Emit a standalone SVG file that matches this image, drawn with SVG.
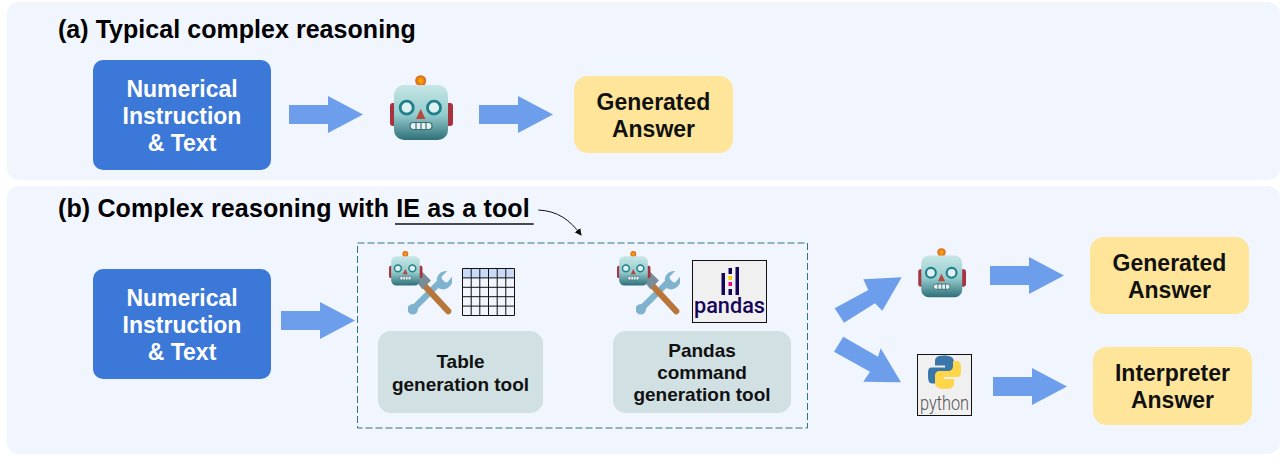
<svg xmlns="http://www.w3.org/2000/svg" xmlns:xlink="http://www.w3.org/1999/xlink" width="1285" height="464" viewBox="0 0 1285 464">
<style>
.panel{fill:#f0f5fe}
.blue{fill:#3c78d8}
.yellow{fill:#ffe599}
.grey{fill:#d0e0e3}
.arrow{fill:#6d9eeb}
.title{font-family:"Liberation Sans",Arial,sans-serif;font-weight:700;font-size:25px;fill:#000}
.node{font-family:"Liberation Sans",Arial,sans-serif;font-weight:700;font-size:23px;text-anchor:middle}
.w{fill:#fff}
.k{fill:#111}
.small{font-family:"Liberation Sans",Arial,sans-serif;font-weight:700;font-size:19px;text-anchor:middle;fill:#111}
</style>
<defs>
<linearGradient id="face" x1="0" y1="0" x2="0" y2="1"><stop offset="0" stop-color="#c8e6e6"/><stop offset="0.55" stop-color="#93cbcc"/><stop offset="1" stop-color="#2f6f78"/></linearGradient>
<radialGradient id="lamp"><stop offset="0" stop-color="#ffb300"/><stop offset="1" stop-color="#d9601e"/></radialGradient>
<marker id="tip" markerWidth="8" markerHeight="8" refX="6" refY="3.500" orient="auto" markerUnits="userSpaceOnUse"><path d="M0 0L7 3.500L0 7z" fill="#111"/></marker>
<symbol id="robot" viewBox="0 0 64 66">
<rect x="0" y="28" width="9" height="23" rx="3" fill="#a8323f"/>
<rect x="54" y="28" width="9" height="23" rx="3" fill="#a8323f"/>
<rect x="27" y="8" width="7.400" height="3" fill="#8a6d50"/>
<circle cx="30.700" cy="5.700" r="5.500" fill="url(#lamp)"/>
<rect x="4" y="10" width="54" height="55" rx="10" fill="url(#face)"/>
<circle cx="16.700" cy="32.700" r="6.500" fill="#dff1f1" stroke="#1f7f8c" stroke-width="2.800"/>
<circle cx="44" cy="32.700" r="6.500" fill="#dff1f1" stroke="#1f7f8c" stroke-width="2.800"/>
<path d="M30.700 34L26 44H35.400z" fill="#b5483a"/>
<rect x="20" y="47.500" width="22" height="7" rx="3.500" fill="#e8f1f1" stroke="#3b6e75" stroke-width="1.200"/>
<path d="M26 47.500v7M31 47.500v7M36 47.500v7" stroke="#3b6e75" stroke-width="1.200"/>
</symbol>
<symbol id="tools" viewBox="0 0 46 46">
<path d="M5 40L36 9" stroke="#7fb2cc" stroke-width="6.500"/>
<circle cx="5" cy="40" r="5.500" fill="#7fb2cc"/>
<path d="M30 8a10 10 0 0 1 11-8l-6 6l1 5l5 1l5-6a10 10 0 0 1-14 12z" fill="#7fb2cc"/>
<path d="M16 14L42 42" stroke="#b9763a" stroke-width="6.500" stroke-linecap="round"/>
<path d="M5 6L14 0L24 10L15 19z" fill="#7a8c96"/>
</symbol>
</defs>
<rect width="1285" height="464" fill="#fff"/>
<rect class="panel" x="7" y="2" width="1273" height="178" rx="12"/>
<rect class="panel" x="7" y="186" width="1273" height="268" rx="12"/>
<text class="title" x="58" y="38" letter-spacing="0.040">(a) Typical complex reasoning</text>
<text class="title" x="58" y="217" letter-spacing="0.130">(b) Complex reasoning with IE as a tool</text>

<g id="connectors">
<path class="arrow" d="M289 105H328V96L363 114.500L328 133V124H289z"/>
<path class="arrow" d="M479 105H518V96L553 114.500L518 133V124H479z"/>
<path class="arrow" d="M281 311H320V302L355 320.500L320 339V330H281z"/>
<path class="arrow" d="M990 266H1029V257L1064 275.500L1029 294V285H990z"/>
<path class="arrow" d="M993 377H1032V368L1067 386.500L1032 405V396H993z"/>
<path class="arrow" d="M834.700 308.300L868.300 290L863.300 279.300L901.700 277.300L882.300 310.700L875 303.300L844 322.700z"/>
<path class="arrow" d="M843.300 336.700L878 356.700L880.700 348.300L901 382.300L863.300 381.700L870 371.700L834 351.700z"/>
<path d="M395 224H533.700" stroke="#111" stroke-width="1.300" fill="none"/>
<path d="M538.300 210C558 211 570 220 581 235" stroke="#111" stroke-width="1" fill="none" marker-end="url(#tip)"/>
<rect x="357.500" y="243" width="450" height="185" fill="none" stroke="#2f7388" stroke-width="1" stroke-dasharray="7 3"/>
</g>

<g id="input-a"><rect class="blue" x="93" y="60" width="178" height="110" rx="10"/>
<text class="node w" x="182" y="97">Numerical</text><text class="node w" x="182" y="124">Instruction</text><text class="node w" x="182" y="151">&amp; Text</text></g>
<g id="robot-a"><use xlink:href="#robot" href="#robot" x="390" y="75" width="64" height="66"/></g>
<g id="answer-a"><rect class="yellow" x="574" y="76" width="159" height="77" rx="14"/>
<text class="node k" x="653.500" y="110">Generated</text><text class="node k" x="653.500" y="137">Answer</text></g>

<g id="input-b"><rect class="blue" x="93" y="269" width="178" height="110" rx="10"/>
<text class="node w" x="182" y="306">Numerical</text><text class="node w" x="182" y="333">Instruction</text><text class="node w" x="182" y="360">&amp; Text</text></g>

<g id="table-tool">
<use xlink:href="#tools" href="#tools" x="408" y="270" width="44" height="46"/>
<use xlink:href="#robot" href="#robot" x="389" y="251" width="34" height="35"/>
<rect x="462.500" y="268.500" width="52" height="9.400" fill="#c9daf8"/>
<path d="M462.500 268.500H514.500V315.500H462.500zM462.500 277.900H514.500M462.500 287.300H514.500M462.500 296.700H514.500M462.500 306.100H514.500M471.200 268.500V315.500M479.800 268.500V315.500M488.500 268.500V315.500M497.200 268.500V315.500M505.800 268.500V315.500" fill="none" stroke="#111" stroke-width="1"/>
<rect class="grey" x="378" y="331" width="165" height="82" rx="13"/>
<text class="small" x="460.500" y="368">Table</text><text class="small" x="460.500" y="391">generation tool</text>
</g>

<g id="pandas-tool">
<use xlink:href="#tools" href="#tools" x="636" y="270" width="44" height="46"/>
<use xlink:href="#robot" href="#robot" x="617" y="251" width="34" height="35"/>
<rect x="692.500" y="260.500" width="74" height="62" fill="#f0f0f1" stroke="#111" stroke-width="1"/>
<path d="M721.500 273h3.500v22h-3.500zM735.500 267h3.500v28h-3.500zM728.500 268h3.500v6h-3.500zM728.500 289h3.500v6h-3.500z" fill="#150458"/>
<rect x="728.500" y="276" width="3.500" height="4" fill="#ffca00"/><rect x="728.500" y="282" width="3.500" height="4" fill="#e70488"/>
<text x="729.500" y="313" font-family="Roboto,Liberation Sans,sans-serif" font-size="22" font-weight="500" text-anchor="middle" fill="#150458" textLength="71" lengthAdjust="spacingAndGlyphs">pandas</text>
<rect class="grey" x="613" y="331" width="178" height="82" rx="13"/>
<text class="small" x="702" y="357">Pandas</text><text class="small" x="702" y="379">command</text><text class="small" x="702" y="401">generation tool</text>
</g>

<g id="robot-b"><use xlink:href="#robot" href="#robot" x="918" y="248" width="49" height="50"/></g>
<g id="answer-b"><rect class="yellow" x="1090" y="237" width="159" height="77" rx="14"/>
<text class="node k" x="1169.500" y="271">Generated</text><text class="node k" x="1169.500" y="298">Answer</text></g>

<g id="python">
<rect x="917.500" y="354.500" width="54" height="61" fill="#f0f0f1" stroke="#111" stroke-width="1"/>
<path d="M944 355.500c-8 0-9 3-9 6v4h10v2h-14c-3 0-3 4-3 8c0 5 1 8 4 8h4v-5c0-3 2-5 5-5h9c2 0 4-2 4-4v-8c0-4-4-6-10-6z" fill="#3a76a8"/>
<path d="M945 389c8 0 9-3 9-6v-4h-10v-2h14c3 0 3-4 3-8c0-5-1-8-4-8h-4v5c0 3-2 5-5 5h-9c-2 0-4 2-4 4v8c0 4 4 6 10 6z" fill="#ffd54a"/>
<text x="944.500" y="410" font-family="Roboto,Liberation Sans,sans-serif" font-size="21" font-weight="300" text-anchor="middle" fill="#555" textLength="49" lengthAdjust="spacingAndGlyphs">python</text>
</g>
<g id="answer-c"><rect class="yellow" x="1093" y="347" width="159" height="78" rx="14"/>
<text class="node k" x="1172.500" y="381">Interpreter</text><text class="node k" x="1172.500" y="408">Answer</text></g>
</svg>
